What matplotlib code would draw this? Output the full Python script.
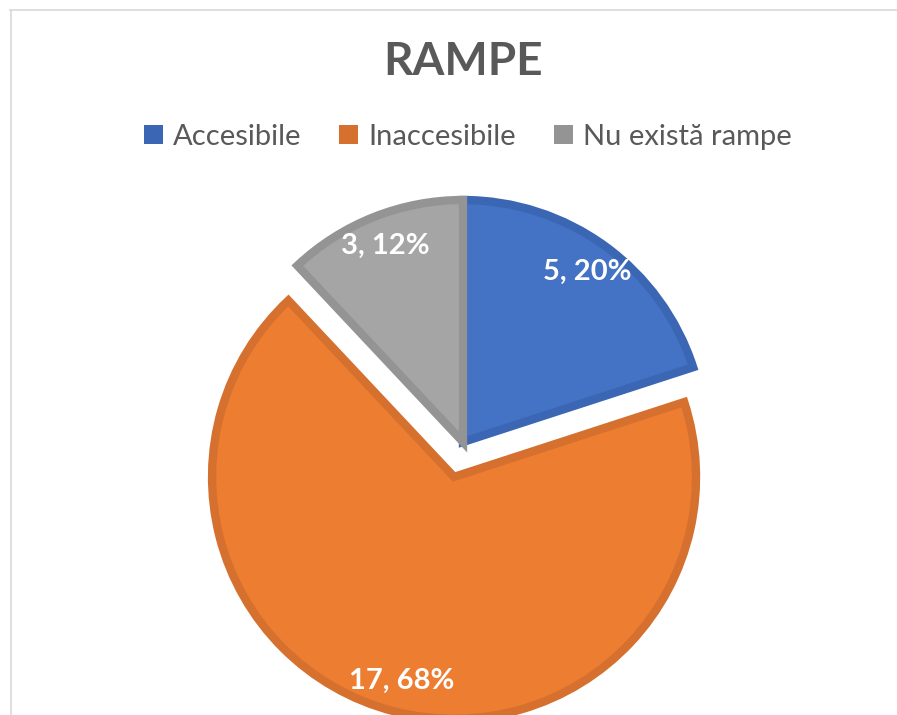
import matplotlib.pyplot as plt
import matplotlib.patches as mpatches
from matplotlib.lines import Line2D

# data
categories = ['Accesibile', 'Inaccesibile', 'Nu există rampe']
counts = [5, 17, 3]
fill_colors = ['#4472C4', '#ED7D31', '#A5A5A5']
edge_colors = ['#3A66B4', '#D5702E', '#949494']
explode_px = [0, 36, 0]

W, H = 897, 715
fig = plt.figure(figsize=(W / 100, H / 100), dpi=100)
ax = fig.add_axes([0, 0, 1, 1])

total = sum(counts)


def fmt(pct):
    n = int(round(pct * total / 100))
    return f'{n}, {pct:.0f}%'


wedges, _, autotexts = ax.pie(
    counts, explode=explode_px, colors=fill_colors, startangle=90,
    counterclock=False, center=(463, H - 442), radius=242,
    autopct=fmt, pctdistance=0.87,
    wedgeprops=dict(linewidth=6, joinstyle='miter'),
    textprops=dict(color='white', fontsize=21, fontweight='bold', family='Lato'))
for w, ec in zip(wedges, edge_colors):
    w.set_edgecolor(ec)

# pie() resets the limits, so pin them to pixel units afterwards
ax.set_xlim(0, W)
ax.set_ylim(0, H)
ax.set_aspect('equal')
ax.axis('off')

# title
fig.text(463 / W, 1 - 62 / H, 'RAMPE', ha='center', va='center',
         fontsize=33, fontweight='bold', color='#595959', family='Lato')

# legend
handles = [mpatches.Patch(facecolor=c, edgecolor='none') for c in edge_colors]
fig.legend(handles, categories, loc='center', bbox_to_anchor=(468 / W, 1 - 137 / H),
           ncol=3, frameon=False, handlelength=0.65, handleheight=0.65,
           handletextpad=0.35, columnspacing=1.3,
           prop=dict(family='Lato', size=21), labelcolor='#595959')

# chart area border (cut off at right and bottom)
fig.add_artist(Line2D([10 / W, 1], [1 - 9.5 / H, 1 - 9.5 / H], color='#D9D9D9', lw=1.2))
fig.add_artist(Line2D([10.5 / W, 10.5 / W], [0, 1 - 9.5 / H], color='#D9D9D9', lw=1.2))

fig.savefig('out.png', dpi=100)
